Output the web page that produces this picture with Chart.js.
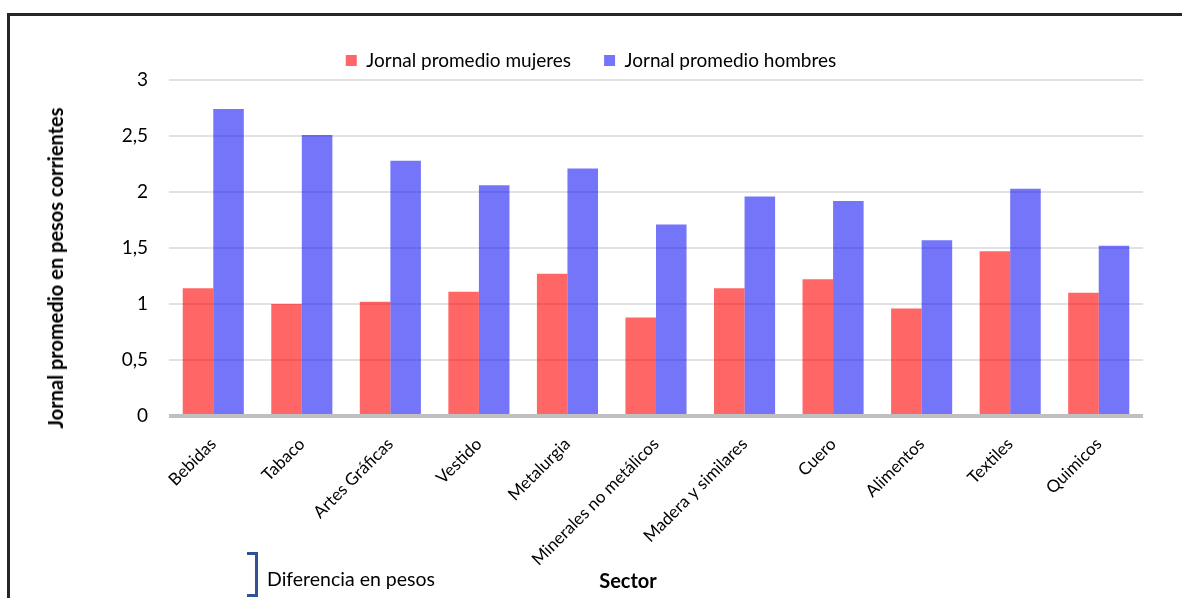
<!DOCTYPE html>
<html lang="es">
<head>
<meta charset="utf-8">
<title>Jornal promedio por sector</title>
<script src="https://cdn.jsdelivr.net/npm/chart.js@4/dist/chart.umd.min.js"></script>
<style>
  html, body { margin: 0; padding: 0; background: #fff; }
  #wrap { position: relative; width: 1182px; height: 598px; overflow: hidden; font-family: Lato, "Open Sans", sans-serif; }
  #frame { position: absolute; left: 7px; top: 13px; right: -10px; bottom: -10px; border-left: 3px solid #262626; border-top: 3px solid #262626; }
  #chart { position: absolute; left: 0; top: 0; }
  .ytitle { position: absolute; left: 55px; top: 268px; transform: translate(-50%, -50%) rotate(-90deg); white-space: nowrap; font-weight: bold; font-size: 20px; color: #000; }
  .xtitle { position: absolute; left: 628px; top: 580px; transform: translate(-50%, -50%); font-weight: bold; font-size: 20px; color: #000; }
  .bracket { position: absolute; left: 247px; top: 552px; width: 8px; height: 39px; border-top: 3px solid #2f5496; border-right: 3px solid #2f5496; border-bottom: 3px solid #2f5496; }
  .note { position: absolute; left: 267px; top: 578px; transform: translateY(-50%); font-size: 19.5px; color: #000; white-space: nowrap; }
</style>
</head>
<body>
<div id="wrap">
  <div id="frame"></div>
  <canvas id="chart" width="1182" height="598"></canvas>
  <div class="ytitle">Jornal promedio en pesos corrientes</div>
  <div class="xtitle">Sector</div>
  <div class="bracket"></div>
  <div class="note">Diferencia en pesos</div>
</div>
<script>
// Sectores industriales
const sectores = [
  'Bebidas', 'Tabaco', 'Artes Gráficas', 'Vestido', 'Metalurgia',
  'Minerales no metálicos', 'Madera y similares', 'Cuero', 'Alimentos',
  'Textiles', 'Quimicos'
];

// Jornal promedio (pesos corrientes)
const jornalMujeres = [1.14, 1.00, 1.02, 1.11, 1.27, 0.88, 1.14, 1.22, 0.96, 1.47, 1.10];
const jornalHombres = [2.74, 2.51, 2.28, 2.06, 2.21, 1.71, 1.96, 1.92, 1.57, 2.03, 1.52];

// Marcas del eje vertical
const yMin = 0;
const yMax = 3;
const yPaso = 0.5;

const FONT = 'Lato, "Open Sans", sans-serif';

new Chart(document.getElementById('chart'), {
  type: 'bar',
  data: {
    labels: sectores,
    datasets: [
      {
        label: 'Jornal promedio mujeres',
        data: jornalMujeres,
        backgroundColor: 'rgba(255, 0, 0, 0.6)',
        borderWidth: 0,
        categoryPercentage: 0.69,
        barPercentage: 1.0
      },
      {
        label: 'Jornal promedio hombres',
        data: jornalHombres,
        backgroundColor: 'rgba(0, 0, 245, 0.54)',
        borderWidth: 0,
        categoryPercentage: 0.69,
        barPercentage: 1.0
      }
    ]
  },
  options: {
    responsive: false,
    animation: false,
    devicePixelRatio: 1,
    layout: { padding: { top: 18, left: 39, right: 39, bottom: 0 } },
    plugins: {
      legend: {
        position: 'top',
        align: 'center',
        labels: {
          boxWidth: 11,
          boxHeight: 11,
          padding: 33,
          color: '#000',
          font: { family: FONT, size: 19 }
        }
      },
      tooltip: { enabled: false }
    },
    scales: {
      x: {
        grid: { display: false },
        border: { display: false },
        ticks: {
          color: '#000',
          font: { family: FONT, size: 17 },
          minRotation: 45,
          maxRotation: 45,
          autoSkip: false,
          padding: 10
        },
        afterFit(scale) { scale.height = 182; }
      },
      y: {
        min: yMin,
        max: yMax,
        border: { display: false },
        grid: {
          drawTicks: false,
          color: ctx => (ctx.tick && ctx.tick.value === 0) ? '#c0c0c0' : '#e2e2e2',
          lineWidth: ctx => (ctx.tick && ctx.tick.value === 0) ? 4 : 2
        },
        ticks: {
          stepSize: yPaso,
          color: '#000',
          padding: 21,
          font: { family: FONT, size: 19 },
          callback: v => String(v).replace('.', ',')
        },
        afterFit(scale) { scale.width = 130; }
      }
    }
  }
});
</script>
</body>
</html>
